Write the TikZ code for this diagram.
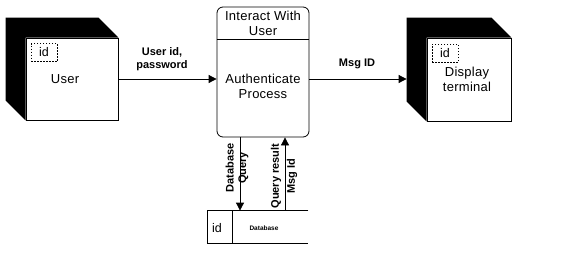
\documentclass[tikz,border=0pt]{standalone}
\usepackage{fontspec}
\setmainfont{Liberation Sans}
\usetikzlibrary{arrows.meta,backgrounds}
\begin{document}
\begin{tikzpicture}[x=1pt,y=-1pt, line width=0.8pt,
  face/.style={draw, fill=white, minimum width=92pt, minimum height=82pt, inner sep=0pt},
  idbox/.style={draw, dash pattern=on 1.5pt off 1.5pt, line width=0.6pt, minimum width=26pt, minimum height=18pt, inner sep=0pt, font=\fontsize{12.5}{14}\selectfont},
  maintxt/.style={font=\fontsize{13}{15}\selectfont\addfontfeature{LetterSpace=2}, align=center, inner sep=0pt},
  lbl/.style={font=\fontsize{11}{12.5}\selectfont\bfseries, align=center, inner sep=0pt},
  flow/.style={-{Triangle[length=8pt,width=8pt]}},
]
\useasboundingbox (0,0) rectangle (576,252);

% User cube
\node[face] (user) at (72,79) {};
\begin{scope}[on background layer]
\fill (user.north east) -- ++(-20,-20) -- ([shift={(-20,-20)}]user.north west) -- ([shift={(-20,-20)}]user.south west) -- (user.south west) -- (user.north west) -- cycle;
\end{scope}
\node[idbox] (uid) at (44,52.5) {id};
\node[maintxt] (utxt) at (65,79) {User};

% Display cube
\node[face, minimum width=84pt, minimum height=83pt] (disp) at (469,79.5) {};
\begin{scope}[on background layer]
\fill (disp.north east) -- ++(-20,-20) -- ([shift={(-20,-20)}]disp.north west) -- ([shift={(-20,-20)}]disp.south west) -- (disp.south west) -- (disp.north west) -- cycle;
\end{scope}
\node[idbox] (did) at (445,53) {id};
\node[maintxt] (dtxt) at (467,79.5) {Display\\terminal};
\coordinate (dback) at ([xshift=-20pt]disp.west);

% Process
\node[draw, rounded corners=6pt, minimum width=92pt, minimum height=130pt, inner sep=0pt] (proc) at (263,72) {};
\draw (proc.west |- 0,39) -- (proc.east |- 0,39);
\node[maintxt] (ptop) at (263,23.5) {Interact With\\User};
\node[maintxt] (pmain) at (263,86) {Authenticate\\Process};

% Database
\node[minimum width=100pt, minimum height=32pt, inner sep=0pt] (db) at (258,227) {};
\draw (db.north east) -- (db.north west) -- (db.south west) -- (db.south east);
\draw ([xshift=25pt]db.north west) -- ([xshift=25pt]db.south west);
\node[font=\fontsize{12.5}{14}\selectfont, inner sep=0pt] (dbid) at (217,228) {id};
\node[font=\fontsize{6.5}{8}\selectfont\bfseries, inner sep=0pt] (dbtxt) at (264,228) {Database};

% Flows
\draw[flow] (user.east) -- (user.east -| proc.west);
\node[lbl] (l1) at (162,59) {User id,\\password};
\draw[flow] (user.east -| proc.east) -- (user.east -| dback);
\node[lbl] (l2) at (357,64) {Msg ID};

\draw[flow] ([xshift=-23pt]proc.south) -- ([xshift=-23pt]proc.south |- db.north);
\draw[flow] ([xshift=22pt]proc.south |- db.north) -- ([xshift=22pt]proc.south);
\node[lbl, rotate=90] (l3) at (237,168) {Database\\Query};
\node[lbl, rotate=90, font=\fontsize{11}{16}\selectfont\bfseries] (l4) at (284,176) {Query result\\Msg Id};
\end{tikzpicture}
\end{document}
